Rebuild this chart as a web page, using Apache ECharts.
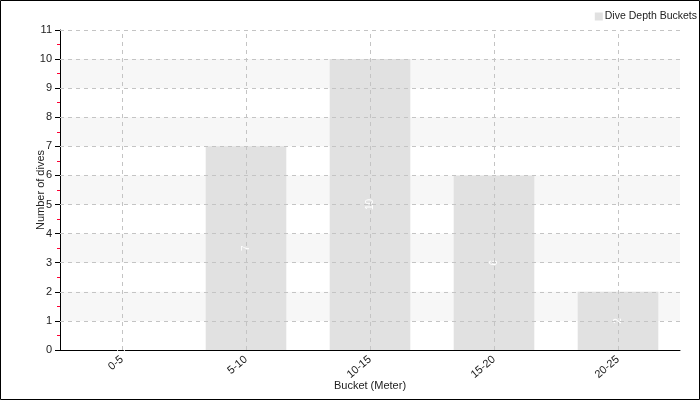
<!DOCTYPE html>
<html><head><meta charset="utf-8">
<script src="https://cdn.jsdelivr.net/npm/echarts@6/dist/echarts.min.js"></script>
<style>html,body{margin:0;padding:0;background:#fff}#c{width:700px;height:400px}</style>
</head><body><div id="c"></div>
<script>
const categories = ['0-5', '5-10', '10-15', '15-20', '20-25'];
const diveCounts = [0, 7, 10, 6, 2];
const yTicks = [1, 2, 3, 4, 5, 6, 7, 8, 9, 10, 11];
const seriesName = 'Dive Depth Buckets';

const font = '"Liberation Sans", Arial, sans-serif';
const chart = echarts.init(document.getElementById('c'));
const dash = { type: [4, 4], color: '#c4c4c4', width: 1 };
chart.setOption({
  animation: false,
  textStyle: { fontFamily: font },
  graphic: [{ type: 'rect', shape: { x: 0.5, y: 0.5, width: 699, height: 399 }, style: { fill: 'none', stroke: '#000', lineWidth: 1 }, silent: true, z: 100 }],
  legend: {
    right: 3, top: 11, padding: 0, itemWidth: 8, itemHeight: 8, icon: 'rect', itemGap: 4,
    textStyle: { fontSize: 10.5, color: '#222', fontFamily: font, padding: [0, 0, 0, -3] },
    data: [seriesName]
  },
  grid: { left: 60, right: 20, top: 30, bottom: 50, containLabel: false, outerBoundsMode: 'none' },
  xAxis: {
    type: 'category', data: categories,
    name: 'Bucket (Meter)', nameLocation: 'middle', nameGap: 30, nameMoveOverlap: false,
    nameTextStyle: { fontSize: 11, color: '#222', fontFamily: font },
    axisLine: { lineStyle: { color: '#000' } },
    axisTick: { alignWithLabel: true, length: 4, lineStyle: { color: '#000' } },
    axisLabel: { rotate: 40, fontSize: 11, color: '#222', margin: 8, fontFamily: font },
    splitLine: { show: false }
  },
  yAxis: {
    type: 'value', min: 0, max: 11, interval: 1,
    name: 'Number of dives', nameLocation: 'middle', nameGap: 14, nameMoveOverlap: false,
    nameTextStyle: { fontSize: 11, color: '#222', fontFamily: font },
    axisLine: { show: true, lineStyle: { color: '#000' } },
    axisTick: { show: true, length: 5, lineStyle: { color: '#000' } },
    minorTick: { show: true, splitNumber: 2, length: 3, lineStyle: { color: '#ff0033' } },
    axisLabel: { fontSize: 11, color: '#222', margin: 8, fontFamily: font },
    splitLine: { show: false },
    splitArea: { show: true, areaStyle: { color: ['rgba(255,255,255,0)', '#f7f7f7'] } }
  },
  series: [{
    name: seriesName, type: 'bar', data: diveCounts, barCategoryGap: '35%',
    itemStyle: { color: '#e1e1e1' },
    label: { show: true, position: 'inside', rotate: 90, color: '#fff', fontSize: 10, fontFamily: font },
    markLine: {
      silent: true, symbol: 'none', label: { show: false },
      lineStyle: dash, z: 5,
      data: yTicks.map(v => ({ yAxis: v })).concat(categories.map(c => ({ xAxis: c })))
    }
  }]
});
</script></body></html>
